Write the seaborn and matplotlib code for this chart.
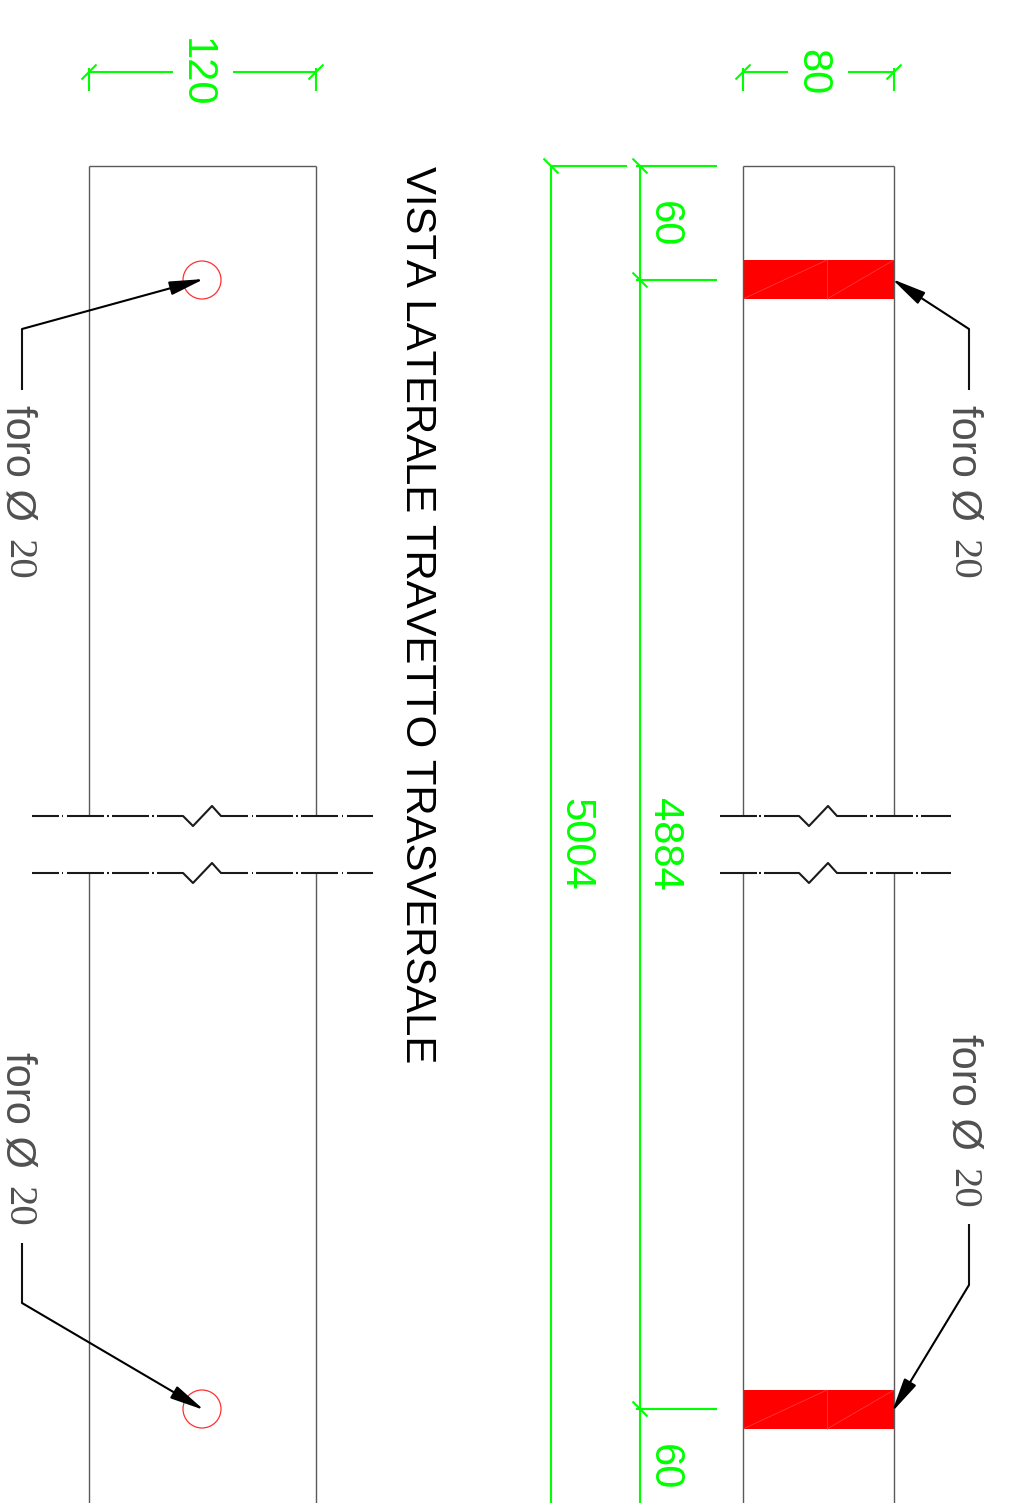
import matplotlib
matplotlib.use('Agg')
import matplotlib.pyplot as plt
import pandas as pd
import seaborn as sns

GREEN = '#00ff00'
GREY = '#5a5a5a'
BLACK = '#000000'
RED = '#ff0000'
TEXT_GREY = '#505050'
FONT = 'Liberation Sans'
NUM_FONT = 'Liberation Serif'

# beam outlines, pixel coords of the drawing
beam_right_x = [743, 894]
beam_left_x = [89, 316]
beam_top = 166
sheet_bottom = 1503
break_upper = 816
break_lower = 873

# hole hatch on the plan view
hatch_top = [260, 1390]
hatch_height = 39
hatch_split_x = 827

# hole circles on the side view
hole_x = 202
hole_y = [280, 1409]
hole_d = 38

# break line pieces, x along the line and y offset
break_right_x = [[720, 757], [759, 761], [764, 799, 809, 828, 837, 867], [870, 873], [876, 913], [916, 918], [921, 951]]
break_right_dy = [[0, 0], [0, 0], [0, 0, 10, -10, 0, 0], [0, 0], [0, 0], [0, 0], [0, 0]]
break_left_x = [[32, 59], [62, 63], [67, 104], [107, 109], [112, 149], [152, 154], [157, 183, 193, 212, 221, 248],
                [252, 253], [256, 293], [296, 298], [301, 338], [342, 343], [347, 373]]
break_left_dy = [[0, 0], [0, 0], [0, 0], [0, 0], [0, 0], [0, 0], [0, 0, 10, -10, 0, 0],
                 [0, 0], [0, 0], [0, 0], [0, 0], [0, 0], [0, 0]]

# green dimension lines
dim_x = [[743, 788], [848, 894], [743, 743], [89, 173], [233, 316], [89, 89], [894, 894], [316, 316],
         [640, 640], [551, 551], [551, 627], [636, 717], [636, 717], [636, 717]]
dim_y = [[72, 72], [72, 72], [68, 91], [72, 72], [72, 72], [68, 91], [68, 91], [68, 91],
         [166, 1503], [166, 1503], [166, 166], [166, 166], [280, 280], [1409, 1409]]
tick_up_centers = [(743, 72), (894, 72), (89, 72), (316, 72)]
tick_down_centers = [(551, 166), (640, 166), (640, 280), (640, 1409)]
tick_half = 7.5

dim_labels = ['80', '120', '60', '4884', '5004', '60']
dim_label_x = [812, 196, 664, 664, 575, 664]
dim_label_y = [72, 73, 224, 844, 844, 1467]

# leaders for the hole notes: tail, elbow, arrow tip
leader_x = [[969, 969, 892], [969, 969, 892], [22, 22, 204], [22, 22, 204]]
leader_y = [[390, 329, 279], [1224, 1285, 1412], [390, 329, 279], [1243, 1303, 1410]]

note_x = [964, 964, 17, 17]
note_y = [405, 1034, 405, 1052]
number_x = [963, 963, 17.5, 17.5]

title = 'VISTA LATERALE TRAVETTO TRASVERSALE'

sns.set_theme(style='white')
plt.rcParams['font.family'] = [FONT, 'DejaVu Sans']
plt.rcParams['text.kerning_factor'] = 6

fig = plt.figure(figsize=(10.12, 15.03), dpi=100)
ax = fig.add_axes([0, 0, 1, 1])
ax.set_xlim(0, 1012)
ax.set_ylim(1503, 0)
ax.axis('off')


def draw(xs, ys, color, lw):
    # one frame per polyline, seaborn joins points within a unit
    rows = []
    for i, (px, py) in enumerate(zip(xs, ys)):
        for order, (a, b) in enumerate(zip(px, py)):
            rows.append({'seg': i, 'order': order, 'x': a, 'y': b})
    df = pd.DataFrame(rows)
    sns.lineplot(data=df, x='x', y='y', units='seg', estimator=None, sort=False,
                 color=color, linewidth=lw, ax=ax, legend=False, solid_capstyle='butt')


# red hatch first so the outlines sit on top
for top in hatch_top:
    ax.fill_between(beam_right_x, top, top + hatch_height, color=RED, linewidth=0, zorder=1)
    seg_x = [[hatch_split_x, hatch_split_x], [beam_right_x[0], hatch_split_x], [hatch_split_x, beam_right_x[1]]]
    seg_y = [[top, top + hatch_height], [top + hatch_height, top], [top + hatch_height, top]]
    draw(seg_x, seg_y, '#ff4040', 0.5)

# beams
for xs in (beam_right_x, beam_left_x):
    outline_x = [[xs[0], xs[1]], [xs[0], xs[0]], [xs[1], xs[1]], [xs[0], xs[0]], [xs[1], xs[1]]]
    outline_y = [[beam_top, beam_top], [beam_top, break_upper], [beam_top, break_upper],
                 [break_lower, sheet_bottom], [break_lower, sheet_bottom]]
    draw(outline_x, outline_y, GREY, 1.0)

# break lines
for base in (break_upper, break_lower):
    draw(break_right_x, [[base + d for d in row] for row in break_right_dy], '#1a1a1a', 1.5)
    draw(break_left_x, [[base + d for d in row] for row in break_left_dy], '#1a1a1a', 1.5)

# dimensions
draw(dim_x, dim_y, GREEN, 1.5)
draw([[c[0] - tick_half, c[0] + tick_half] for c in tick_up_centers],
     [[c[1] + tick_half, c[1] - tick_half] for c in tick_up_centers], GREEN, 1.5)
draw([[c[0] - tick_half, c[0] + tick_half] for c in tick_down_centers],
     [[c[1] - tick_half, c[1] + tick_half] for c in tick_down_centers], GREEN, 1.5)
for lab, x, y in zip(dim_labels, dim_label_x, dim_label_y):
    ax.text(x, y, lab, rotation=-90, color=GREEN, fontsize=30, ha='center', va='center', family=FONT)

# hole circles
for y in hole_y:
    ax.add_patch(plt.Circle((hole_x, y), hole_d / 2, fill=False, edgecolor='#ff3030', linewidth=0.9))

# leaders with filled arrow heads
draw([p[:2] for p in leader_x], [p[:2] for p in leader_y], '#111111', 1.5)
for px, py in zip(leader_x, leader_y):
    ax.annotate('', xy=(px[2], py[2]), xytext=(px[1], py[1]),
                arrowprops=dict(arrowstyle='-|>,head_length=1.5,head_width=0.3', color=BLACK, lw=1.5,
                                shrinkA=0, shrinkB=0, mutation_scale=14))

# notes, the diameter part is larger than the number
for x, nx, y in zip(note_x, number_x, note_y):
    ax.text(x, y, 'foro Ø', rotation=-90, color=TEXT_GREY, fontsize=30, ha='center', va='top', family=FONT)
    ax.text(nx, y + 134, '20', rotation=-90, color=TEXT_GREY, fontsize=29.5, ha='center', va='top', family=NUM_FONT)

ax.text(417, 166, title, rotation=-90, color=BLACK, fontsize=30.2, ha='center', va='top', family=FONT)

fig.savefig('out.png', dpi=100, facecolor='white')
